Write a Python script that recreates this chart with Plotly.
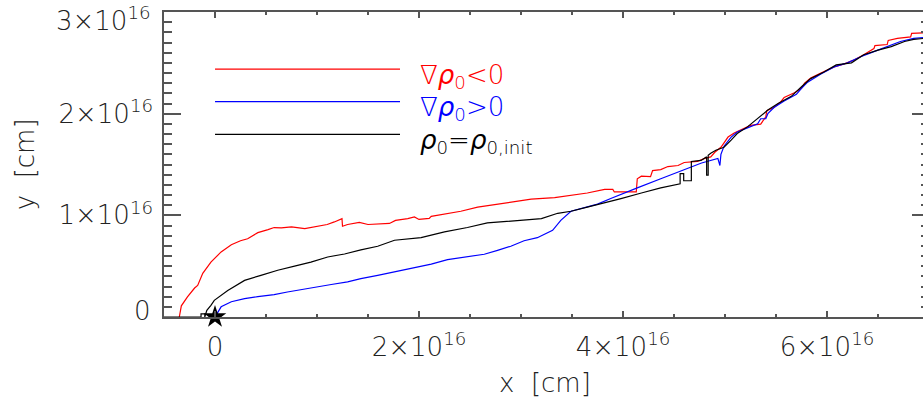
import plotly.graph_objects as go

# values in units of 1e16 cm
red_x = [-0.35,-0.33,-0.27,-0.20,-0.17,-0.12,-0.04,0.06,0.16,0.25,0.32,0.42,0.52,0.58,0.65,0.75,0.88,0.97,1.10,1.17,1.245,1.25,1.30,1.415,1.50,1.71,1.77,1.89,1.955,2.0,2.10,2.12,2.28,2.41,2.575,2.74,2.90,3.10,3.33,3.52,3.65,3.82,3.90,3.915,4.13,4.14,4.18,4.27,4.29,4.37,4.44,4.54,4.60,4.73,4.80,4.86,4.90,4.96,5.03,5.09,5.19,5.25,5.35,5.40,5.41,5.48,5.55,5.58,5.68,5.75,5.78,5.84,5.94,6.07,6.17,6.27,6.36,6.46,6.47,6.59,6.60,6.69,6.82,6.83,6.95]
red_y = [0,0.11,0.197,0.285,0.31,0.43,0.54,0.64,0.71,0.75,0.77,0.83,0.86,0.88,0.876,0.886,0.87,0.886,0.91,0.935,0.968,0.893,0.91,0.93,0.91,0.92,0.95,0.968,0.985,0.96,0.97,0.99,1.02,1.04,1.08,1.105,1.13,1.16,1.175,1.20,1.22,1.255,1.255,1.23,1.23,1.36,1.385,1.38,1.44,1.45,1.48,1.49,1.52,1.53,1.56,1.575,1.62,1.67,1.77,1.81,1.855,1.885,1.897,1.97,2.03,2.06,2.12,2.16,2.205,2.25,2.30,2.35,2.40,2.46,2.49,2.53,2.58,2.64,2.67,2.68,2.72,2.74,2.755,2.79,2.795]

blue_x = [0.0,0.06,0.16,0.29,0.42,0.58,0.71,0.84,1.01,1.14,1.30,1.43,1.595,1.76,1.89,2.02,2.12,2.28,2.475,2.64,2.77,2.90,3.03,3.16,3.31,3.39,3.49,3.59,3.75,3.88,4.01,4.14,4.37,4.57,4.77,4.93,4.95,4.96,4.99,5.06,5.12,5.22,5.32,5.35,5.40,5.42,5.48,5.58,5.70,5.75,5.81,5.94,6.07,6.20,6.33,6.46,6.59,6.72,6.85,6.95]
blue_y = [0.0,0.10,0.15,0.18,0.20,0.22,0.246,0.27,0.295,0.32,0.345,0.378,0.41,0.443,0.476,0.50,0.52,0.565,0.59,0.617,0.656,0.696,0.75,0.78,0.853,0.95,1.04,1.067,1.11,1.165,1.22,1.27,1.36,1.44,1.515,1.56,1.49,1.60,1.68,1.77,1.82,1.86,1.90,1.95,1.95,2.0,2.06,2.125,2.19,2.25,2.31,2.39,2.46,2.50,2.56,2.61,2.66,2.71,2.74,2.75]

black_x = [-0.5,-0.137,-0.137,-0.10,-0.10,-0.08,-0.04,-0.007,0.125,0.29,0.45,0.615,0.78,0.94,1.105,1.27,1.43,1.595,1.76,2.02,2.25,2.475,2.67,2.90,3.20,3.36,3.49,3.65,3.82,3.98,4.18,4.37,4.56,4.56,4.595,4.595,4.67,4.67,4.765,4.82,4.82,4.835,4.835,4.86,4.91,4.99,5.06,5.12,5.22,5.32,5.42,5.52,5.65,5.75,5.84,5.97,6.09,6.24,6.36,6.50,6.63,6.76,6.85,6.95]
black_y = [0,0,0.03,0.03,0.0,0.066,0.115,0.164,0.26,0.36,0.41,0.46,0.50,0.54,0.59,0.62,0.66,0.696,0.755,0.78,0.837,0.88,0.925,0.945,0.968,1.02,1.04,1.08,1.12,1.165,1.22,1.27,1.31,1.41,1.41,1.34,1.34,1.53,1.54,1.575,1.395,1.395,1.59,1.61,1.64,1.67,1.74,1.805,1.87,1.95,2.035,2.10,2.17,2.265,2.345,2.41,2.48,2.50,2.58,2.625,2.66,2.71,2.73,2.74]

star_x = [0.0]
star_y = [0.0]

x_tickvals = [0, 2, 4, 6]
x_ticktext = ["0", "2×10<sup>16</sup>", "4×10<sup>16</sup>", "6×10<sup>16</sup>"]
y_tickvals = [0, 1, 2, 3]
y_ticktext = ["", "1×10<sup>16</sup>", "2×10<sup>16</sup>", ""]
y_end_labels = ["0", "3×10<sup>16</sup>"]

legend_labels = ["∇<i>ρ</i><sub>0</sub>&lt;0", "∇<i>ρ</i><sub>0</sub>&gt;0", "<i>ρ</i><sub>0</sub>=<i>ρ</i><sub>0,init</sub>"]
colors = ["#ff0000", "#0000ff", "#000000"]

FONT = dict(family="DejaVu Sans", size=26, color="#222222", weight=200)

fig = go.Figure()
for xs, ys, c in [(red_x, red_y, colors[0]), (blue_x, blue_y, colors[1]), (black_x, black_y, colors[2])]:
    fig.add_trace(go.Scatter(x=xs, y=ys, mode="lines", line=dict(color=c, width=1.2), showlegend=False))
fig.add_trace(go.Scatter(x=star_x, y=star_y, mode="markers", marker=dict(symbol="star", size=17, color="black"),
                         showlegend=False, cliponaxis=False))

axis_common = dict(showline=True, linecolor="#555555", linewidth=1.5, mirror="ticks", ticks="inside",
                   tickcolor="#555555", tickwidth=1.5, showgrid=False, zeroline=False, tickfont=FONT,
                   ticklabeloverflow="allow", automargin=False)

fig.update_xaxes(range=[-0.5, 7.0], tickvals=x_tickvals, ticktext=x_ticktext, ticklen=6,
                 minor=dict(dtick=0.5, tick0=0, ticklen=3, ticks="inside", tickcolor="#555555", tickwidth=1.5, showgrid=False),
                 ticklabelstandoff=6, **axis_common)
fig.update_yaxes(range=[0, 3.0], tickvals=y_tickvals, ticktext=y_ticktext, ticklen=17,
                 minor=dict(dtick=0.1, tick0=0, ticklen=8, ticks="inside", tickcolor="#555555", tickwidth=1.5, showgrid=False),
                 ticklabelstandoff=4, **axis_common)

# end labels of the y axis, nudged inside the frame as in the original
fig.add_annotation(xref="paper", yref="paper", x=-0.0144, y=0.0197, xanchor="right", yanchor="middle",
                   text=y_end_labels[0], showarrow=False, font=FONT)
fig.add_annotation(xref="paper", yref="paper", x=-0.0144, y=0.977, xanchor="right", yanchor="middle",
                   text=y_end_labels[1], showarrow=False, font=FONT)

# axis titles
fig.add_annotation(xref="paper", yref="paper", x=0.498, y=-0.216, xanchor="center", yanchor="middle",
                   text="x\u00a0 [cm]", showarrow=False, font=FONT)
fig.add_annotation(xref="paper", yref="paper", x=-0.182, y=0.5, xanchor="center", yanchor="middle",
                   text="y\u00a0 [cm]", textangle=-90, showarrow=False, font=FONT)

leg_y = [0.813, 0.706, 0.599]
for lbl, c, yy in zip(legend_labels, colors, leg_y):
    fig.add_shape(type="line", xref="paper", yref="paper", x0=0.0667, x1=0.3085, y0=yy, y1=yy,
                  line=dict(color=c, width=1.2))
    fig.add_annotation(xref="paper", yref="paper", x=0.332, y=yy - 0.023, xanchor="left", yanchor="middle",
                       text=lbl, showarrow=False, font=dict(family="DejaVu Sans", size=26, color=c, weight=200))

fig.update_layout(width=931, height=400, margin=dict(l=164, r=2, t=12, b=83),
                  plot_bgcolor="white", paper_bgcolor="white", font=FONT)

fig.write_html("out.html", post_script="document.body.style.overflow='hidden';document.documentElement.style.overflow='hidden';")
